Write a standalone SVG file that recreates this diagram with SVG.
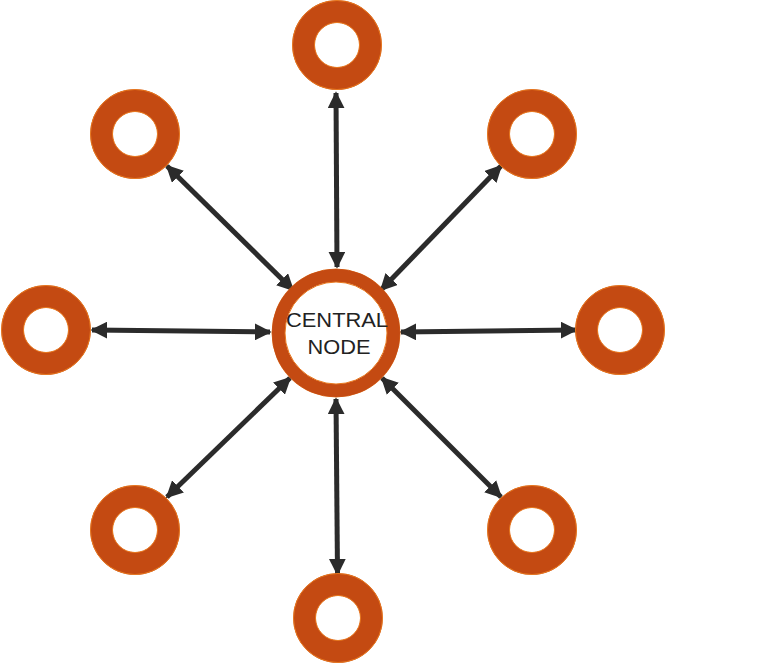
<svg xmlns="http://www.w3.org/2000/svg" width="782" height="665" viewBox="0 0 782 665">
<defs>
<style>
.ring{fill:none;stroke:#C44A12;}
.edge{fill:none;stroke:#E8781E;stroke-width:1;}
.sat .ring{stroke-width:22.5;}
.conn line{stroke:#2b2b2b;stroke-width:5;marker-start:url(#ah);marker-end:url(#ah);}
.lbl{font-family:"Liberation Sans",Arial,sans-serif;font-size:20px;fill:#222;text-anchor:middle;}
</style>
<marker id="ah" viewBox="0 0 10 10" refX="9" refY="5" markerWidth="3.4" markerHeight="3.4" orient="auto-start-reverse" markerUnits="strokeWidth">
<path d="M0,0 L10,5 L0,10 z" fill="#2b2b2b"/>
</marker>
</defs>
<rect width="782" height="665" fill="#fff"/>
<g id="connectors" class="conn">
<line x1="336" y1="93" x2="337" y2="267"/>
<line x1="92" y1="330" x2="270" y2="332"/>
<line x1="401" y1="332" x2="576" y2="330"/>
<line x1="336" y1="399" x2="337.5" y2="574"/>
<line x1="167" y1="166" x2="293" y2="290"/>
<line x1="501" y1="166" x2="381" y2="290"/>
<line x1="167" y1="497" x2="290" y2="378"/>
<line x1="501" y1="497" x2="382" y2="378"/>
</g>
<g id="central">
<circle cx="336" cy="333" r="64" class="edge" fill="#fff"/>
<circle cx="336" cy="333" r="57.5" class="ring" stroke-width="13"/>
<circle cx="336" cy="333" r="51" class="edge"/>
<text class="lbl" x="337" y="327" textLength="102" lengthAdjust="spacingAndGlyphs">CENTRAL</text>
<text class="lbl" x="339" y="354" textLength="63" lengthAdjust="spacingAndGlyphs">NODE</text>
</g>
<g id="n-top" class="sat"><circle cx="337" cy="45" r="33.5" class="ring"/><circle cx="337" cy="45" r="44.5" class="edge"/><circle cx="337" cy="45" r="22.5" class="edge"/></g>
<g id="n-topleft" class="sat"><circle cx="135" cy="134" r="33.5" class="ring"/><circle cx="135" cy="134" r="44.5" class="edge"/><circle cx="135" cy="134" r="22.5" class="edge"/></g>
<g id="n-topright" class="sat"><circle cx="532" cy="134" r="33.5" class="ring"/><circle cx="532" cy="134" r="44.5" class="edge"/><circle cx="532" cy="134" r="22.5" class="edge"/></g>
<g id="n-left" class="sat"><circle cx="46" cy="330" r="33.5" class="ring"/><circle cx="46" cy="330" r="44.5" class="edge"/><circle cx="46" cy="330" r="22.5" class="edge"/></g>
<g id="n-right" class="sat"><circle cx="620" cy="330" r="33.5" class="ring"/><circle cx="620" cy="330" r="44.5" class="edge"/><circle cx="620" cy="330" r="22.5" class="edge"/></g>
<g id="n-bottomleft" class="sat"><circle cx="135" cy="530" r="33.5" class="ring"/><circle cx="135" cy="530" r="44.5" class="edge"/><circle cx="135" cy="530" r="22.5" class="edge"/></g>
<g id="n-bottomright" class="sat"><circle cx="532" cy="530" r="33.5" class="ring"/><circle cx="532" cy="530" r="44.5" class="edge"/><circle cx="532" cy="530" r="22.5" class="edge"/></g>
<g id="n-bottom" class="sat"><circle cx="338" cy="618" r="33.5" class="ring"/><circle cx="338" cy="618" r="44.5" class="edge"/><circle cx="338" cy="618" r="22.5" class="edge"/></g>
</svg>
